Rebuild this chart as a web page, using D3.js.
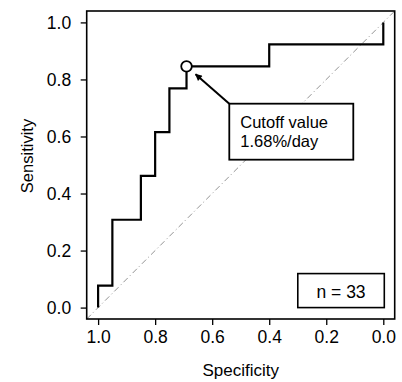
<!DOCTYPE html>
<html>
<head>
<meta charset="utf-8">
<script src="https://cdn.jsdelivr.net/npm/d3@7"></script>
<style>
  body { margin: 0; background: #fff; }
  svg text { font-family: "Liberation Sans", Arial, sans-serif; fill: #000; }
</style>
</head>
<body>
<div id="chart"></div>
<script>
// ROC curve, step points (specificity reversed on x)
const specificity = [1.0, 1.0, 0.95, 0.95, 0.85, 0.85, 0.80, 0.80, 0.75, 0.75, 0.69, 0.69, 0.40, 0.40, 0.0, 0.0];
const sensitivity = [0.0, 0.077, 0.077, 0.308, 0.308, 0.462, 0.462, 0.615, 0.615, 0.769, 0.769, 0.846, 0.846, 0.923, 0.923, 1.0];
const cutoffPoint = { spec: 0.69, sens: 0.846 };
const cutoffLabel = ["Cutoff value", "1.68%/day"];
const nLabel = "n = 33";
const xTicks = [1.0, 0.8, 0.6, 0.4, 0.2, 0.0];
const yTicks = [0.0, 0.2, 0.4, 0.6, 0.8, 1.0];

const width = 402, height = 382;
const margin = { top: 11, right: 7.3, bottom: 63, left: 86.7 };
const w = width - margin.left - margin.right;
const h = height - margin.top - margin.bottom;

const svg = d3.select("#chart").append("svg")
  .attr("width", width)
  .attr("height", height);

const g = svg.append("g")
  .attr("transform", `translate(${margin.left},${margin.top})`);

// R style 4% padding on each side
const x = d3.scaleLinear().domain([1.04, -0.04]).range([0, w]);
const y = d3.scaleLinear().domain([-0.04, 1.04]).range([h, 0]);

// diagonal reference line
g.append("line")
  .attr("x1", x(1.04)).attr("y1", y(-0.04))
  .attr("x2", x(-0.04)).attr("y2", y(1.04))
  .attr("stroke", "#777")
  .attr("stroke-width", 0.8)
  .attr("stroke-dasharray", "6,3,1,3");

// axes
const xAxis = d3.axisBottom(x).tickValues(xTicks).tickSize(6).tickFormat(d3.format(".1f"));
const yAxis = d3.axisLeft(y).tickValues(yTicks).tickSize(6).tickFormat(d3.format(".1f"));

const xg = g.append("g").attr("transform", `translate(0,${h})`).call(xAxis);
const yg = g.append("g").call(yAxis);
[xg, yg].forEach(a => {
  a.select(".domain").remove();
  a.selectAll(".tick line").attr("stroke", "#000").attr("stroke-width", 1.3);
  a.selectAll(".tick text")
    .style("font-family", "'Liberation Sans', Arial, sans-serif")
    .style("font-size", "17.5px")
    .attr("fill", "#000");
});
xg.selectAll(".tick text").attr("y", 12).attr("dy", "0.71em");
yg.selectAll(".tick text").attr("x", -15.5);

// frame
g.append("rect")
  .attr("width", w).attr("height", h)
  .attr("fill", "none")
  .attr("stroke", "#000")
  .attr("stroke-width", 1.6);

// ROC step line
const rocData = specificity.map((s, i) => ({ spec: s, sens: sensitivity[i] }));
g.append("path")
  .datum(rocData)
  .attr("fill", "none")
  .attr("stroke", "#000")
  .attr("stroke-width", 2.2)
  .attr("d", d3.line().x(d => x(d.spec)).y(d => y(d.sens)));

// cutoff annotation box
const boxX = x(0.54), boxY = y(0.715), boxW = 124, boxH = 56;

// arrow from box corner to cutoff point
const cx = x(cutoffPoint.spec), cy = y(cutoffPoint.sens);
const dx = cx - boxX, dy = cy - boxY;
const len = Math.sqrt(dx * dx + dy * dy);
const stop = (len - 12) / len;

svg.append("defs").append("marker")
  .attr("id", "arrow")
  .attr("viewBox", "0 0 10 10")
  .attr("refX", 9).attr("refY", 5)
  .attr("markerWidth", 9).attr("markerHeight", 7)
  .attr("markerUnits", "userSpaceOnUse")
  .attr("orient", "auto")
  .append("path")
  .attr("d", "M0,0 L10,5 L0,10 z")
  .attr("fill", "#000");

g.append("line")
  .attr("x1", boxX).attr("y1", boxY)
  .attr("x2", boxX + dx * stop).attr("y2", boxY + dy * stop)
  .attr("stroke", "#000")
  .attr("stroke-width", 2)
  .attr("marker-end", "url(#arrow)");

g.append("circle")
  .attr("cx", cx).attr("cy", cy)
  .attr("r", 5.3)
  .attr("fill", "#fff")
  .attr("stroke", "#000")
  .attr("stroke-width", 1.8);

g.append("rect")
  .attr("x", boxX).attr("y", boxY)
  .attr("width", boxW).attr("height", boxH)
  .attr("fill", "#fff")
  .attr("stroke", "#000")
  .attr("stroke-width", 1.8);

// two separate lines so the boxes don't collide
g.append("g")
  .style("font-size", "16.5px")
  .selectAll("text")
  .data(cutoffLabel)
  .join("text")
  .attr("x", boxX + 11)
  .attr("y", (d, i) => boxY + 24 + i * 19)
  .text(d => d);

// n legend box, bottom right
const nW = 86.5, nH = 34;
const nX = x(0.0) - nW + 1, nY = y(0.0) - nH;
g.append("rect")
  .attr("x", nX).attr("y", nY)
  .attr("width", nW).attr("height", nH)
  .attr("fill", "#fff")
  .attr("stroke", "#000")
  .attr("stroke-width", 1.6);
g.append("text")
  .attr("x", nX + nW / 2)
  .attr("y", nY + 24)
  .attr("text-anchor", "middle")
  .style("font-size", "17.5px")
  .text(nLabel);

// axis titles
svg.append("text")
  .attr("x", margin.left + w / 2)
  .attr("y", 376)
  .attr("text-anchor", "middle")
  .style("font-size", "17px")
  .text("Specificity");

svg.append("text")
  .attr("transform", "translate(32.7,156) rotate(-90)")
  .attr("text-anchor", "middle")
  .style("font-size", "16.5px")
  .text("Sensitivity");
</script>
</body>
</html>
